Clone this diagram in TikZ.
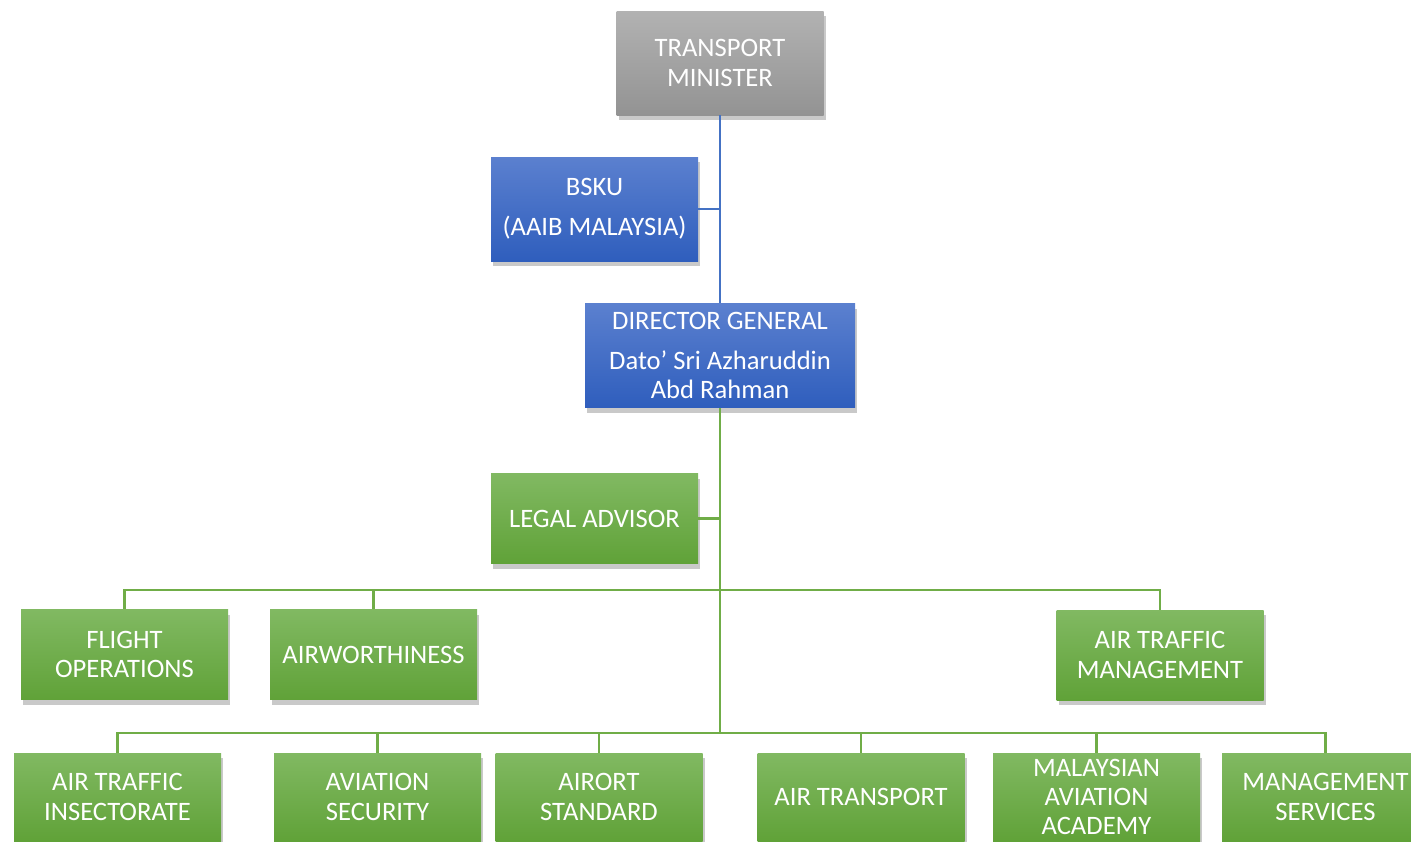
\documentclass[tikz,border=0pt]{standalone}
\usepackage{fontspec}
\setmainfont{Carlito}
\usepackage{tikz}
\usetikzlibrary{shadows}

\definecolor{grayTop}{HTML}{B2B2B2}
\definecolor{grayBot}{HTML}{939393}
\definecolor{blueTop}{HTML}{5B80CF}
\definecolor{blueBot}{HTML}{2F5EBD}
\definecolor{greenTop}{HTML}{81B962}
\definecolor{greenBot}{HTML}{60A238}
\definecolor{blueLine}{HTML}{4472C4}
\definecolor{greenLine}{HTML}{70AD47}

\begin{document}
\begin{tikzpicture}[x=0.5pt,y=-0.5pt,
      every node/.style={font=\fontsize{13.3}{14.6}\selectfont,text=white,align=center,inner sep=0pt},
      unit/.style={rectangle,minimum width=103.5pt,minimum height=45pt,
        drop shadow={shadow xshift=1pt,shadow yshift=-2.5pt,opacity=0.3,fill=black!70}},
      grayunit/.style={unit,top color=grayTop,bottom color=grayBot,minimum height=52pt},
      blueunit/.style={unit,top color=blueTop,bottom color=blueBot,minimum height=52pt},
      greenunit/.style={unit,top color=greenTop,bottom color=greenBot},
      blueedge/.style={draw=blueLine,line width=1.1pt},
      greenedge/.style={draw=greenLine,line width=1.3pt}]
    \useasboundingbox (0,0) rectangle (1411,841);
    \clip (0,0) rectangle (1411,841);

    % top of the chart
    \node[grayunit] (minister) at (720,63) {TRANSPORT\\MINISTER};
    \node[blueunit] (bsku) at (594.5,209) {BSKU\\[5.5pt](AAIB MALAYSIA)};
    \node[blueunit,minimum width=135pt] (dg) at (720,355.5)
        {DIRECTOR GENERAL\\[5pt]Dato’ Sri Azharuddin\\Abd Rahman};
    \node[greenunit] (legal) at (594.5,518.5) {LEGAL ADVISOR};

    % first row of divisions
    \coordinate (busA) at (720,590);
    \node[greenunit] (flightops) at (124.5,654.5) {FLIGHT\\OPERATIONS};
    \node[greenunit] (airworth) at (373.5,654.5) {AIRWORTHINESS};
    \node[greenunit] (atm) at (1160,655) {AIR TRAFFIC\\MANAGEMENT};

    % second row of divisions
    \coordinate (busB) at (720,733);
    \node[greenunit,minimum height=44pt] (atinsp) at (117.5,797) {AIR TRAFFIC\\INSECTORATE};
    \node[greenunit,minimum height=44pt] (avsec) at (377.5,797) {AVIATION\\SECURITY};
    \node[greenunit,minimum height=44pt] (airport) at (599,797) {AIRORT\\STANDARD};
    \node[greenunit,minimum height=44pt] (airtrans) at (861,797) {AIR TRANSPORT};
    \node[greenunit,minimum height=44pt] (academy) at (1096.5,797) {MALAYSIAN\\AVIATION\\ACADEMY};
    \node[greenunit,minimum height=44pt] (mgmt) at (1325.5,797) {MANAGEMENT\\SERVICES};

    % connectors
    \draw[blueedge] (minister.south) -- (dg.north);
    \draw[blueedge] (bsku.east) -- (bsku.east -| minister.south);
    \draw[greenedge] (dg.south) -- (busB);
    \draw[greenedge] (legal.east) -- (legal.east -| dg.south);
    \foreach \n in {flightops,airworth,atm}
      \draw[greenedge] (busA) -| (\n.north);
    \foreach \n in {atinsp,avsec,airport,airtrans,academy,mgmt}
      \draw[greenedge] (busB) -| (\n.north);
  \end{tikzpicture}
\end{document}
